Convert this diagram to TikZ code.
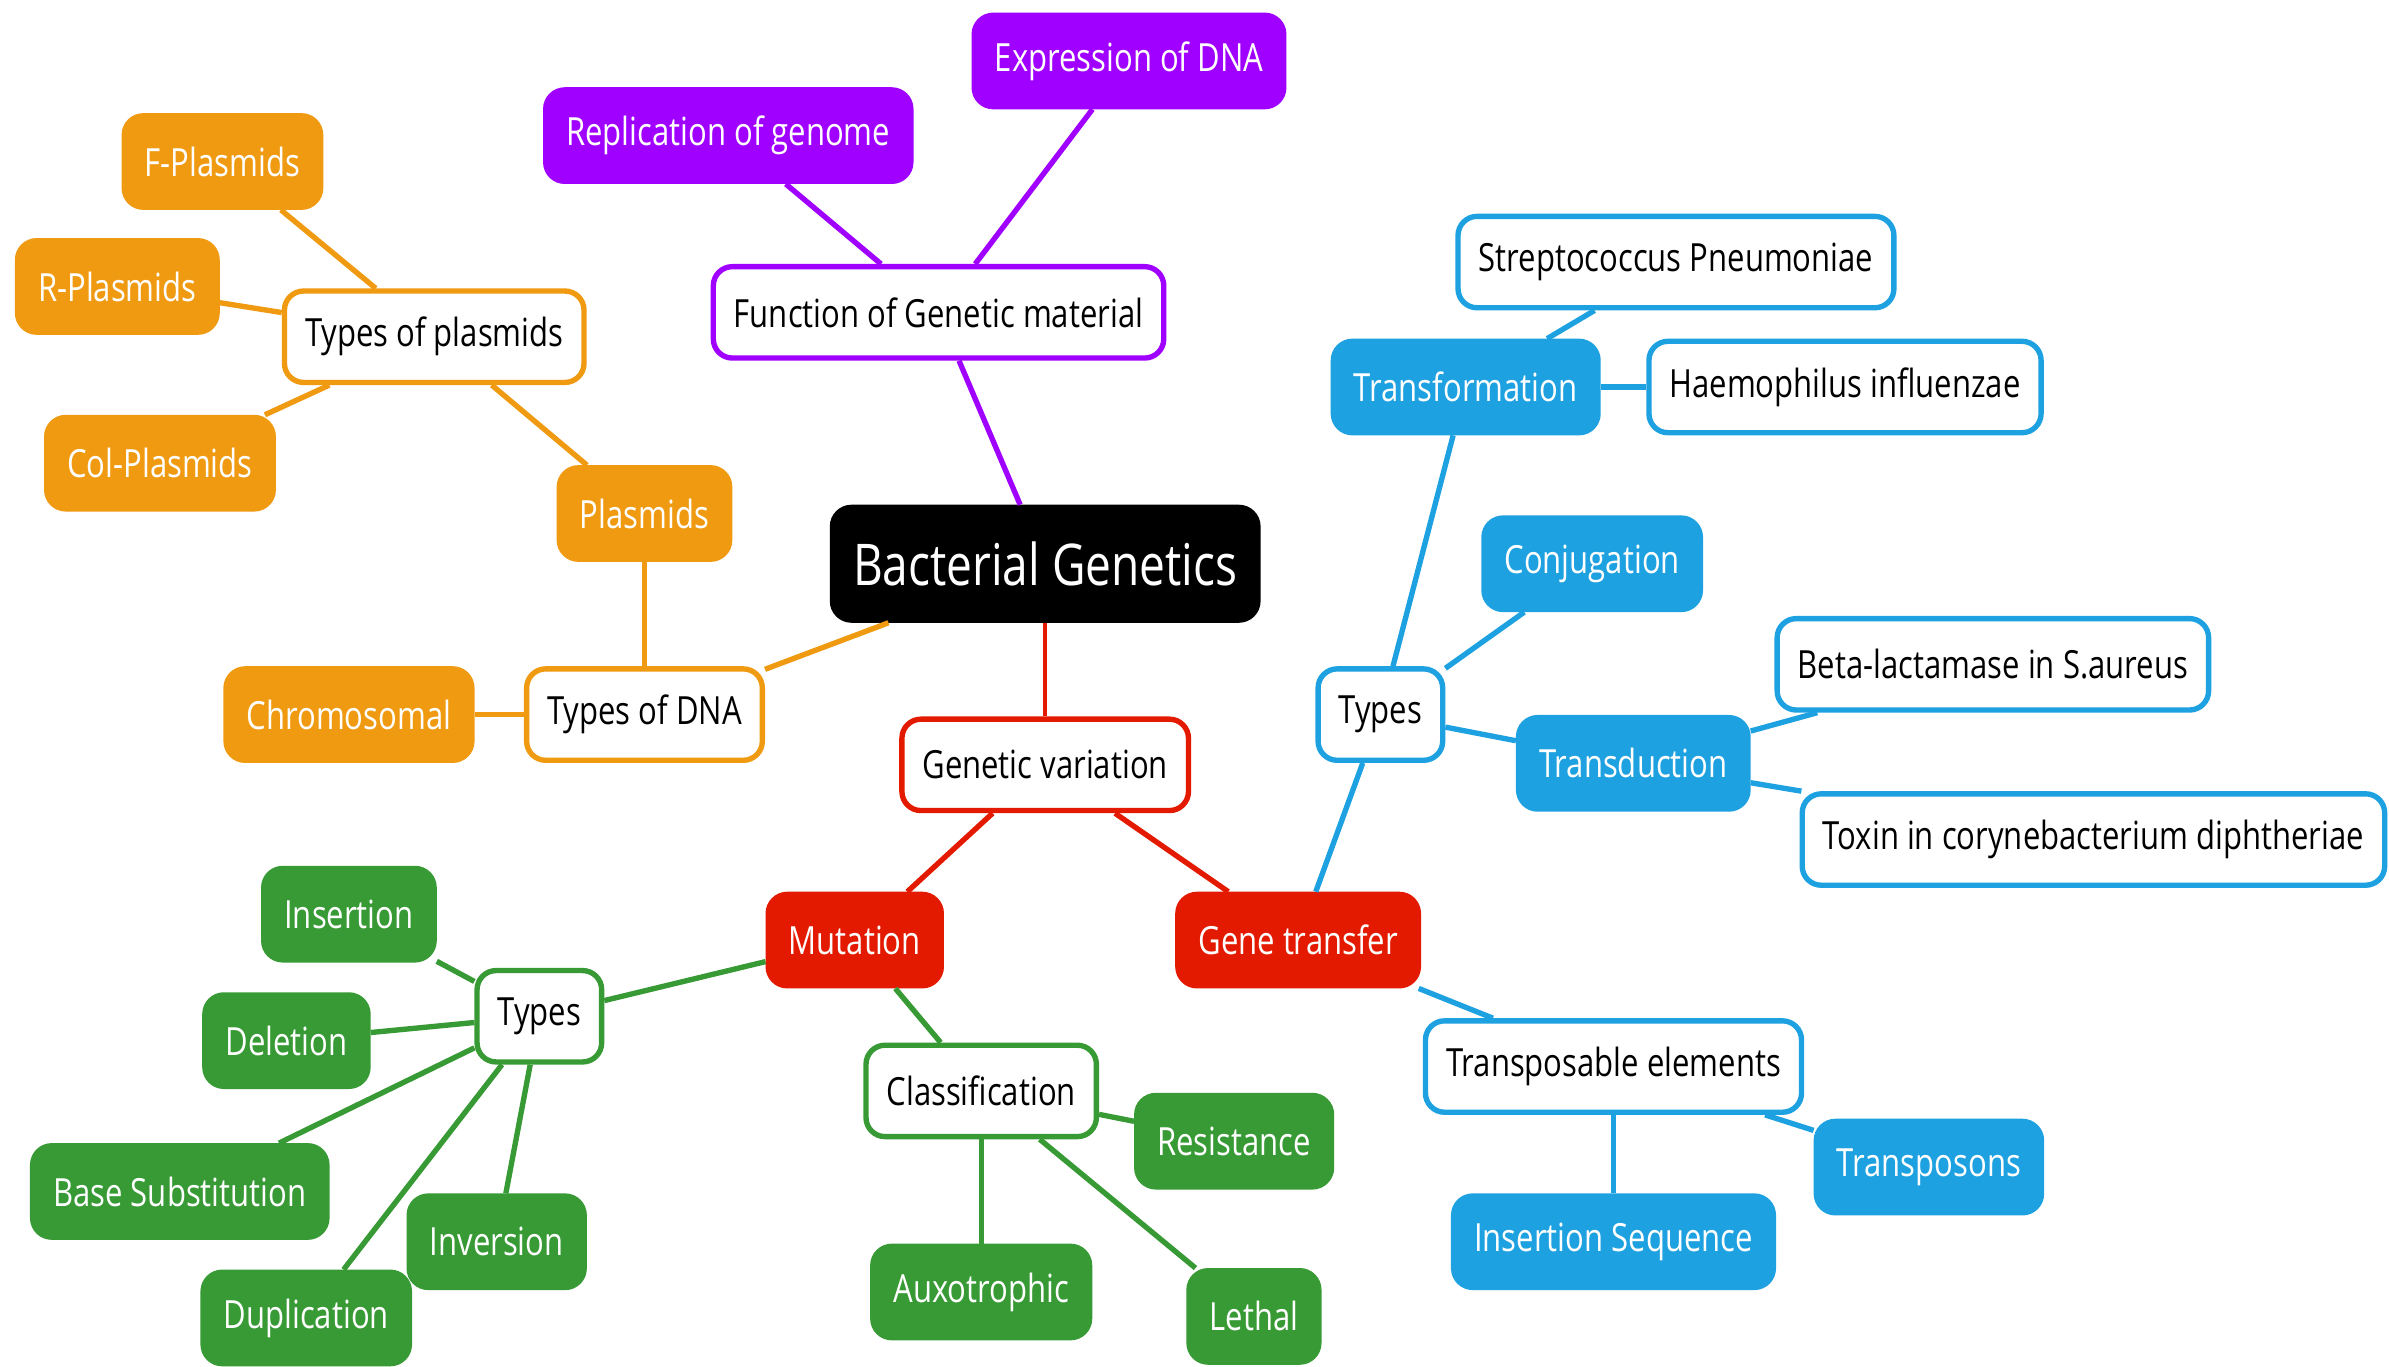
\documentclass[tikz,border=0pt]{standalone}
\usepackage{fontspec}
\setmainfont{Open Sans}[FakeStretch=0.8]
\usepackage{xcolor}
\usepackage{tikz}
\usetikzlibrary{positioning}

\definecolor{purp}{HTML}{A000FF}
\definecolor{orng}{HTML}{EF9A10}
\definecolor{redd}{HTML}{E31A00}
\definecolor{grn}{HTML}{379A34}
\definecolor{blu}{HTML}{1DA1E0}

\begin{document}
\begin{tikzpicture}[x=0.02cm, y=-0.02cm,
    basebox/.style={rectangle, rounded corners=0.25cm, line width=2pt, inner xsep=0.27cm, minimum height=1.2cm, font=\fontsize{14.5}{17}\selectfont},
    fillbox/.style={basebox, draw=#1, fill=#1, text=white},
    linebox/.style={basebox, draw=#1, fill=white, text=black},
    rootbox/.style={basebox, draw=black, fill=black, text=white, minimum height=1.48cm, font=\fontsize{21.5}{24}\selectfont},
    link/.style={draw=#1, line width=2pt}]

    \useasboundingbox (0,0) rectangle (1568,897);

    \node[rootbox] (root) at (686,370) {Bacterial Genetics};

    % function of genetic material
    \node[linebox=purp] (funct) at (616,205) {Function of Genetic material};
    \node[fillbox=purp] (replic) at (478,89) {Replication of genome};
    \node[fillbox=purp] (express) at (741,40) {Expression of DNA};

    % types of DNA
    \node[linebox=orng] (dnatypes) at (423,469) {Types of DNA};
    \node[fillbox=orng, left of=dnatypes, node distance=3.88cm] (chromo) {Chromosomal};
    \node[fillbox=orng, above of=dnatypes, node distance=2.64cm] (plasm) {Plasmids};
    \node[linebox=orng] (plasmtypes) at (285,221) {Types of plasmids};
    \node[fillbox=orng] (fplasm) at (146,106) {F-Plasmids};
    \node[fillbox=orng] (rplasm) at (77,188) {R-Plasmids};
    \node[fillbox=orng] (colplasm) at (105,304) {Col-Plasmids};

    % genetic variation
    \node[linebox=redd] (genvar) at (686,502) {Genetic variation};
    \node[fillbox=redd] (mutat) at (561,617) {Mutation};
    \node[fillbox=redd] (genetr) at (852,617) {Gene transfer};

    % mutation
    \node[linebox=grn] (muttypes) at (354,667) {Types};
    \node[fillbox=grn] (insert) at (229,600) {Insertion};
    \node[fillbox=grn] (delet) at (188,683) {Deletion};
    \node[fillbox=grn] (basesub) at (118,782) {Base Substitution};
    \node[fillbox=grn] (invers) at (326,815) {Inversion};
    \node[fillbox=grn] (duplic) at (201,865) {Duplication};
    \node[linebox=grn] (classif) at (644,716) {Classification};
    \node[fillbox=grn] (resist) at (810,749) {Resistance};
    \node[fillbox=grn, below of=classif, node distance=2.64cm] (auxo) {Auxotrophic};
    \node[fillbox=grn] (lethal) at (823,864) {Lethal};

    % gene transfer
    \node[linebox=blu] (trtypes) at (906,469) {Types};
    \node[fillbox=blu] (transf) at (962,254) {Transformation};
    \node[linebox=blu] (strep) at (1100,172) {Streptococcus Pneumoniae};
    \node[linebox=blu, right of=transf, node distance=4.98cm] (haemo) {Haemophilus influenzae};
    \node[fillbox=blu] (conjug) at (1045,370) {Conjugation};
    \node[fillbox=blu] (transd) at (1072,501) {Transduction};
    \node[linebox=blu] (betalac) at (1308,436) {Beta-lactamase in S.aureus};
    \node[linebox=blu] (toxin) at (1374,551) {Toxin in corynebacterium diphtheriae};
    \node[linebox=blu] (transpel) at (1059,700) {Transposable elements};
    \node[fillbox=blu] (transpos) at (1266,766) {Transposons};
    \node[fillbox=blu, below of=transpel, node distance=2.3cm] (inseq) {Insertion Sequence};

    \draw[link=purp] (root) -- (funct);
    \draw[link=purp] (funct) -- (replic);
    \draw[link=purp] (funct) -- (express);

    \draw[link=orng] (root) -- (dnatypes);
    \draw[link=orng] (dnatypes) -- (chromo);
    \draw[link=orng] (dnatypes) -- (plasm);
    \draw[link=orng] (plasm) -- (plasmtypes);
    \draw[link=orng] (plasmtypes) -- (fplasm);
    \draw[link=orng] (plasmtypes) -- (rplasm);
    \draw[link=orng] (plasmtypes) -- (colplasm);

    \draw[link=redd, line width=1.4pt] (root) -- (genvar);
    \draw[link=redd] (genvar) -- (mutat);
    \draw[link=redd] (genvar) -- (genetr);

    \draw[link=grn] (mutat) -- (muttypes);
    \draw[link=grn] (muttypes) -- (insert);
    \draw[link=grn] (muttypes) -- (delet);
    \draw[link=grn] (muttypes) -- (basesub);
    \draw[link=grn] (muttypes) -- (invers);
    \draw[link=grn] (muttypes) -- (duplic);
    \draw[link=grn] (mutat) -- (classif);
    \draw[link=grn] (classif) -- (resist);
    \draw[link=grn] (classif) -- (auxo);
    \draw[link=grn] (classif) -- (lethal);

    \draw[link=blu] (genetr) -- (trtypes);
    \draw[link=blu] (trtypes) -- (transf);
    \draw[link=blu] (transf) -- (strep);
    \draw[link=blu] (transf) -- (haemo);
    \draw[link=blu] (trtypes) -- (conjug);
    \draw[link=blu] (trtypes) -- (transd);
    \draw[link=blu] (transd) -- (betalac);
    \draw[link=blu] (transd) -- (toxin);
    \draw[link=blu] (genetr) -- (transpel);
    \draw[link=blu] (transpel) -- (transpos);
    \draw[link=blu] (transpel) -- (inseq);
\end{tikzpicture}
\end{document}
